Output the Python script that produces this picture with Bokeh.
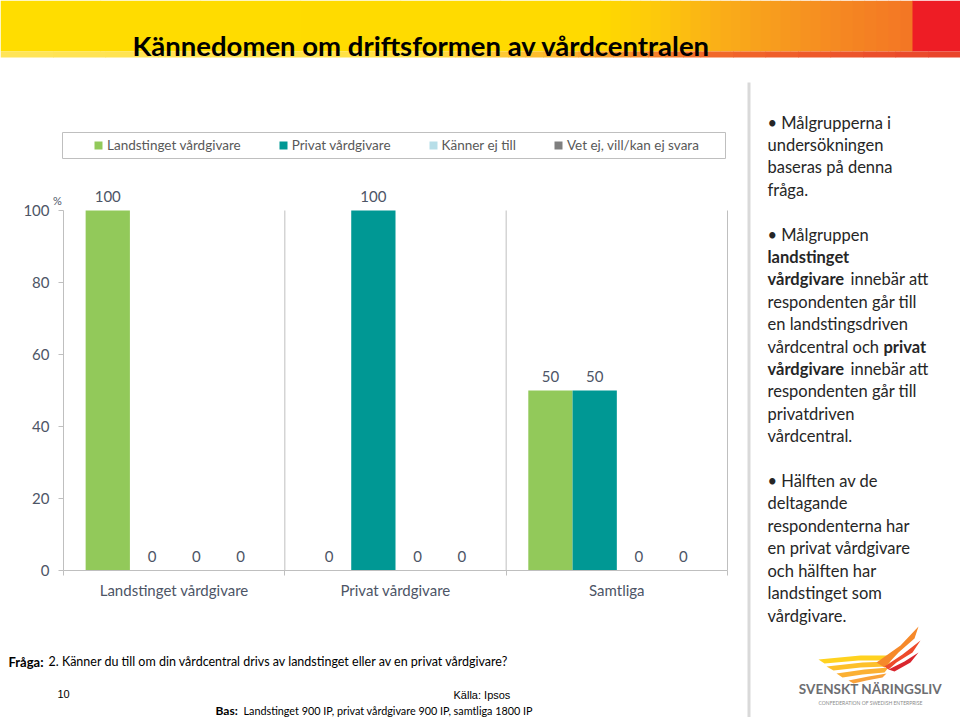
from bokeh.plotting import figure
from bokeh.models import (ColumnDataSource, Range1d, FixedTicker, Label, LinearAxis,
                          Legend, LegendItem)
from bokeh.core.properties import value
from bokeh.embed import file_html
from bokeh.resources import INLINE

# ---------------- data ----------------
title_text = "Kännedomen om driftsformen av vårdcentralen"
categories = ["Landstinget vårdgivare", "Privat vårdgivare", "Samtliga"]
series_names = ["Landstinget vårdgivare", "Privat vårdgivare", "Känner ej till", "Vet ej, vill/kan ej svara"]
landstinget = [100, 0, 50]
privat = [0, 100, 50]
kanner_ej = [0, 0, 0]
vet_ej = [0, 0, 0]
y_ticks = [0, 20, 40, 60, 80, 100]
y_max = 100

# ---------------- page geometry (reference pixels -> data coords) ----------------
W, H = 960, 717
PX0, PY0 = 63, 570          # pixel of (x=0 category edge, y=0)
SX = 664 / 3                # pixels per category
SY = 3.6                    # pixels per percent

def X(px):
    return (px - PX0) / SX

def Y(py):
    return (PY0 - py) / SY

FONT = "Lato"
TXT = "#4d5566"
AX = "#BFBFBF"
colors = ["#92C95A", "#009894", "#B7DEE8", "#7F7F7F"]
offsets = [-0.3, -0.1, 0.1, 0.3]
bar_w = 0.2

p = figure(width=W, height=H, x_range=Range1d(X(0), X(W)), y_range=Range1d(Y(H), Y(0)),
           x_axis_type=None, y_axis_type=None,
           output_backend="svg", toolbar_location=None,
           min_border=0, min_border_left=0, min_border_right=0, min_border_top=0, min_border_bottom=0)
p.outline_line_color = None
p.background_fill_color = "white"
p.border_fill_color = "white"
p.xgrid.visible = False
p.ygrid.visible = False

# ---------------- banner ----------------
def hex2rgb(h):
    h = h.lstrip("#")
    return tuple(int(h[i:i + 2], 16) for i in (0, 2, 4))

def mix(a, b, t):
    ra, rb = hex2rgb(a), hex2rgb(b)
    return "#%02x%02x%02x" % tuple(round(ra[i] + (rb[i] - ra[i]) * t) for i in range(3))

bl, br, bt, bb, bc = [], [], [], [], []
def band(stops, top, bottom, n):
    for i in range(len(stops) - 1):
        x0, c0 = stops[i]
        x1, c1 = stops[i + 1]
        for k in range(n):
            a = x0 + (x1 - x0) * k / n
            b = x0 + (x1 - x0) * (k + 1) / n
            bl.append(X(a)); br.append(X(b + 0.6)); bt.append(Y(top)); bb.append(Y(bottom))
            bc.append(mix(c0, c1, (k + 0.5) / n))

band([(0, "#FFDD00"), (600, "#FFDA00"), (660, "#FDC70C"), (720, "#FAAE18"), (780, "#F79A1E"),
      (840, "#F58822"), (912, "#F37524")], 0, 51, 6)
bl.append(X(912)); br.append(X(960)); bt.append(Y(0)); bb.append(Y(51)); bc.append("#EE1D25")
band([(0, "#FFE45A"), (420, "#FFE040"), (560, "#FBB52A"), (700, "#F26A2A"), (960, "#E8432B")], 51, 57, 8)
p.quad(left=bl, right=br, top=bt, bottom=bb, fill_color=bc, line_color=None)

def lab(x, y, t, size, bold=False, font=FONT, color="#000000", align="left"):
    p.add_layout(Label(x=X(x), y=Y(y), text=t,
                       text_font=font, text_font_size=size, text_color=color,
                       text_font_style="bold" if bold else "normal",
                       text_baseline="middle", text_align=align))

lab(132, 45, title_text, "27.5px", bold=True)

# ---------------- chart ----------------
items = []
series_vals = [landstinget, privat, kanner_ej, vet_ej]
for j, name in enumerate(series_names):
    xs = [i + 0.5 + offsets[j] for i in range(len(categories))]
    src = ColumnDataSource(dict(x=xs, top=series_vals[j], t=[str(v) for v in series_vals[j]]))
    r = p.vbar(x="x", top="top", bottom=0, width=bar_w, source=src, fill_color=colors[j], line_color=None)
    items.append(LegendItem(label=name, renderers=[r]))
    p.text(x="x", y="top", text="t", source=src, text_align="center", text_baseline="middle",
           y_offset=-14, text_font=value(FONT), text_font_size="15px", text_color=TXT)

# vertical separators between category groups
bounds = list(range(1, len(categories) + 1))
p.segment(x0=bounds, y0=[0] * len(bounds), x1=bounds, y1=[y_max] * len(bounds), line_color=AX, line_width=1)

yax = LinearAxis(fixed_location=0, bounds=(0, y_max), ticker=FixedTicker(ticks=y_ticks))
yax.axis_line_color = AX
yax.major_tick_line_color = AX
yax.major_tick_out = 5
yax.major_tick_in = 0
yax.minor_tick_line_color = None
yax.major_label_text_font = FONT
yax.major_label_text_font_size = "15px"
yax.major_label_text_color = TXT
yax.major_label_standoff = 9
p.add_layout(yax, "left")

cat_ticks = [i + 0.5 for i in range(len(categories))]
xax = LinearAxis(fixed_location=0, bounds=(0, len(categories)),
                 ticker=FixedTicker(ticks=cat_ticks, minor_ticks=bounds + [0]))
xax.major_label_overrides = {t: c for t, c in zip(cat_ticks, categories)}
xax.axis_line_color = AX
xax.major_tick_line_color = None
xax.major_tick_out = 0
xax.major_tick_in = 0
xax.minor_tick_line_color = AX
xax.minor_tick_out = 5
xax.minor_tick_in = 0
xax.major_label_text_font = FONT
xax.major_label_text_font_size = "15px"
xax.major_label_text_color = TXT
xax.major_label_standoff = 5
p.add_layout(xax, "below")

lab(57, 200, "%", "11px", color=TXT, align="center")

legend = Legend(items=items, orientation="horizontal", location=(93, H - 153), margin=0, padding=5,
                spacing=37, label_standoff=4, glyph_width=10, glyph_height=10,
                label_text_font=FONT, label_text_font_size="13.5px", label_text_color="#595959",
                border_line_color=None, background_fill_alpha=0)
p.add_layout(legend)
p.quad(left=[X(62)], right=[X(725)], top=[Y(132)], bottom=[Y(158)], fill_alpha=0, line_color=AX, line_width=1)

# ---------------- right panel ----------------
p.quad(left=[X(747)], right=[X(750)], top=[Y(82)], bottom=[Y(717)], fill_color="#D9D9D9", line_color=None)

right_lines = [
    [(767, "• Målgrupperna i", False)],
    [(767, "undersökningen", False)],
    [(767, "baseras på denna", False)],
    [(767, "fråga.", False)],
    [],
    [(767, "• Målgruppen", False)],
    [(767, "landstinget", True)],
    [(767, "vårdgivare", True), (850, "innebär att", False)],
    [(767, "respondenten går till", False)],
    [(767, "en landstingsdriven", False)],
    [(767, "vårdcentral och", False), (883, "privat", True)],
    [(767, "vårdgivare", True), (850, "innebär att", False)],
    [(767, "respondenten går till", False)],
    [(767, "privatdriven", False)],
    [(767, "vårdcentral.", False)],
    [],
    [(767, "• Hälften av de", False)],
    [(767, "deltagande", False)],
    [(767, "respondenterna har", False)],
    [(767, "en privat vårdgivare", False)],
    [(767, "och hälften har", False)],
    [(767, "landstinget som", False)],
    [(767, "vårdgivare.", False)],
]
for li, segs in enumerate(right_lines):
    yy = 122 + li * 22.41
    for (xx, t, b) in segs:
        lab(xx, yy, t, "16.5px", bold=b, color="#262626")

# ---------------- footer ----------------
lab(8, 661, "Fråga:", "13px", bold=True)
lab(48, 661, "2. Känner du till om din vårdcentral drivs av landstinget eller av en privat vårdgivare?", "12.5px")
lab(57, 693, "10", "11px", font="Liberation Sans")
lab(453, 694, "Källa:  Ipsos", "11px", font="Liberation Sans")
lab(215, 710, "Bas:", "12px", bold=True)
lab(243, 710, "Landstinget 900 IP, privat vårdgivare 900 IP, samtliga 1800 IP", "10.8px")

# ---------------- logo ----------------
wings = [
    ([818, 860, 892, 888, 858, 824], [659, 655, 655, 660, 660, 663], "#FFD21F"),
    ([826, 862, 890, 886, 860, 833], [666, 662, 661, 666, 667, 670], "#FDC02A"),
    ([836, 864, 888, 884, 862, 842], [673, 669, 667, 672, 674, 677], "#FBB033"),
    ([848, 868, 886, 882, 866, 853], [680, 676, 673, 677, 680, 683], "#F9A23A"),
    ([876, 900, 918, 914, 898, 884], [662, 645, 626, 638, 652, 667], "#F6892A"),
    ([884, 902, 920, 912, 896, 888], [666, 654, 640, 652, 662, 669], "#EE4B2B"),
    ([888, 904, 918, 910, 894], [669, 661, 652, 662, 671], "#D9262E"),
]
p.patches(xs=[[X(v) for v in w[0]] for w in wings], ys=[[Y(v) for v in w[1]] for w in wings],
          fill_color=[w[2] for w in wings], line_color=None)
lab(870, 688, "SVENSKT NÄRINGSLIV", "13.5px", bold=True, color="#6D6E71", align="center")
lab(870, 702, "CONFEDERATION OF SWEDISH ENTERPRISE", "5px", color="#8A8A8A", align="center")

open("out.html", "w").write(file_html(p, INLINE))
